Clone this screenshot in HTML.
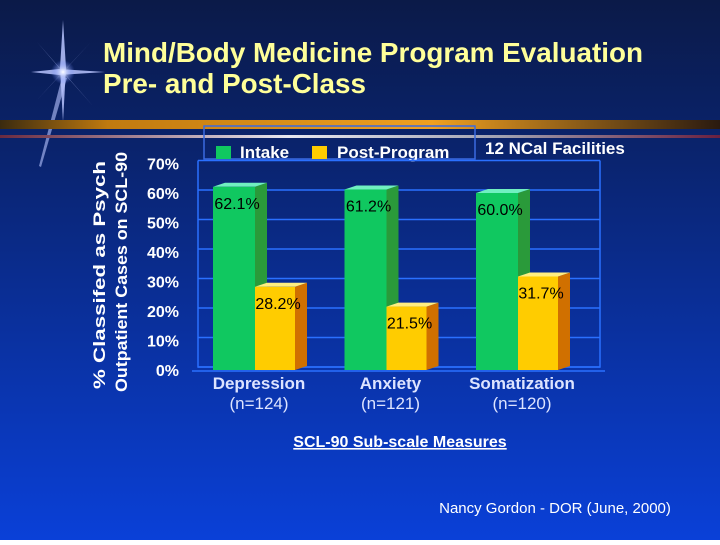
<!DOCTYPE html>
<html><head><meta charset="utf-8"><style>
html,body{margin:0;padding:0;}
body{width:720px;height:540px;overflow:hidden;font-family:"Liberation Sans",sans-serif;}
</style></head><body>
<svg id="chart" width="720" height="540" viewBox="0 0 720 540" xmlns="http://www.w3.org/2000/svg">
<defs>
<linearGradient id="bg" x1="0" y1="0" x2="0" y2="1">
<stop offset="0" stop-color="#0b1a48"/><stop offset="0.3" stop-color="#0a2470"/><stop offset="1" stop-color="#0a40d8"/>
</linearGradient>
<linearGradient id="gold" x1="0" y1="0" x2="1" y2="0">
<stop offset="0" stop-color="#3a2a10"/><stop offset="0.15" stop-color="#c07a10"/><stop offset="0.6" stop-color="#f0a020"/><stop offset="1" stop-color="#2a1a10"/>
</linearGradient>
<linearGradient id="silver" x1="0" y1="0" x2="1" y2="0">
<stop offset="0" stop-color="#6a2a40"/><stop offset="0.4" stop-color="#e8e8f0"/><stop offset="0.7" stop-color="#a0a0b0"/><stop offset="1" stop-color="#6a2040"/>
</linearGradient>
<radialGradient id="glow"><stop offset="0" stop-color="#ffffff"/><stop offset="1" stop-color="#6080ff" stop-opacity="0"/></radialGradient>
</defs>
<rect width="720" height="540" fill="url(#bg)"/>
<g transform="translate(63,72)">
<polygon points="0,-52 3,-4 0,50 -3,-4" fill="#b8c4ff" opacity="0.85"/>
<polygon points="-32,0 -4,-3 42,0 -4,3" fill="#b8c4ff" opacity="0.85"/>
<polygon points="-26,-30 -2,-2 30,34 2,2" fill="#b8c4ff" opacity="0.7"/>
<polygon points="28,-30 2,-2 -26,28 -2,2" fill="#b8c4ff" opacity="0.7"/>
<polygon points="-1,5 4,6 -22,95 -24,94" fill="#b8c4ff" opacity="0.6"/>
<circle cx="0" cy="0" r="12" fill="url(#glow)"/>
</g>
<text x="103" y="62" font-size="28" font-weight="bold" fill="#ffff99" textLength="540" lengthAdjust="spacingAndGlyphs">Mind/Body Medicine Program Evaluation</text>
<text x="103" y="93" font-size="28" font-weight="bold" fill="#ffff99" textLength="263" lengthAdjust="spacingAndGlyphs">Pre- and Post-Class</text>
<rect x="0" y="120" width="720" height="9" fill="url(#gold)"/>
<rect x="0" y="135" width="720" height="3" fill="url(#silver)"/>
<rect x="204" y="126" width="271" height="33" fill="none" stroke="#3a6ae0" stroke-width="1.5"/>
<rect x="216" y="146" width="15" height="13" fill="#10c860"/>
<text x="240" y="158" font-size="17" font-weight="bold" fill="#ffffff">Intake</text>
<rect x="312" y="146" width="15" height="13" fill="#ffcc00"/>
<text x="337" y="158" font-size="17" font-weight="bold" fill="#ffffff">Post-Program</text>
<text x="485" y="154" font-size="17" font-weight="bold" fill="#ffffff">12 NCal Facilities</text>
<text transform="translate(105,275) rotate(-90)" text-anchor="middle" font-size="17" font-weight="bold" fill="#ffffff" textLength="228" lengthAdjust="spacingAndGlyphs">%  Classifed as Psych</text>
<text transform="translate(127,272) rotate(-90)" text-anchor="middle" font-size="17" font-weight="bold" fill="#ffffff" textLength="240" lengthAdjust="spacingAndGlyphs">Outpatient Cases on SCL-90</text>
<g id="grid"></g>
<g id="ticks"></g>
<g id="bars"></g>
<g id="cats"></g>
<text x="400" y="447" text-anchor="middle" font-size="16" font-weight="bold" fill="#ffffff" text-decoration="underline">SCL-90 Sub-scale Measures</text>
<text x="555" y="513" text-anchor="middle" font-size="15" fill="#ffffff">Nancy Gordon - DOR (June, 2000)</text>
</svg>
<script>
const categories = ["Depression", "Anxiety", "Somatization"];
const subLabels = ["(n=124)", "(n=121)", "(n=120)"];
const intake = [62.1, 61.2, 60.0];
const postProgram = [28.2, 21.5, 31.7];
const tickValues = [0, 10, 20, 30, 40, 50, 60, 70];

const NS = "http://www.w3.org/2000/svg";
const base = 370, scale = 2.95;
function y(v){ return base - v*scale; }
function groupX(i){ return 213 + i*131.5; }
function mk(tag, attrs, parent){
  const e = document.createElementNS(NS, tag);
  for (const k in attrs) e.setAttribute(k, attrs[k]);
  parent.appendChild(e); return e;
}
const grid = document.getElementById('grid');
const ticks = document.getElementById('ticks');
tickValues.forEach(v => {
  const gy = y(v) - 3;
  const l = mk('line', {x1:198, x2:600, y1:gy, y2:gy, stroke:'#2a70ff', 'stroke-width':1.5}, grid);
  
  
  const t = mk('text', {x:179, y:y(v)+6, 'text-anchor':'end', 'font-size':16, 'font-weight':'bold', fill:'#ffffff'}, ticks);
  t.textContent = v + '%';
  
  
});
const frame = mk('polyline', {points:'198,'+(y(70)-3)+' 198,'+(y(0)-3)+' 600,'+(y(0)-3)+' 600,'+(y(70)-3), fill:'none', stroke:'#2a70ff','stroke-width':1.5}, grid);


mk('line',{x1:192,x2:605,y1:base+1,y2:base+1,stroke:'#2a70ff','stroke-width':1.5},grid);

const bars = document.getElementById('bars');
function bar(x, w, v, front, side, top, name){
  const g = mk('g', {}, bars);
  
  
  const ty = y(v), d = 12, o = 4;
  mk('polygon', {points:`${x+w},${ty} ${x+w+d},${ty-o} ${x+w+d},${base-o} ${x+w},${base}`, fill:side}, g);
  mk('polygon', {points:`${x},${ty} ${x+d},${ty-o} ${x+w+d},${ty-o} ${x+w},${ty}`, fill:top}, g);
  mk('rect', {x:x, y:ty, width:w, height:base-ty, fill:front}, g);
  const t = mk('text', {x:x+w/2+3, y:ty+22, 'text-anchor':'middle','font-size':16, fill:'#000000'}, g);
  t.textContent = v.toFixed(1) + '%';
}
const cats = document.getElementById('cats');
categories.forEach((c, i) => {
  const gx = groupX(i);
  bar(gx, 42, intake[i], '#10c860', '#2a9a3a', '#70f0c0', 'bar-intake-' + c.toLowerCase());
  bar(gx+42, 40, postProgram[i], '#ffcc00', '#d07000', '#ffee80', 'bar-post-' + c.toLowerCase());
  const t1 = mk('text', {x:gx+46, y:389, 'text-anchor':'middle','font-size':17,'font-weight':'bold', fill:'#dde4ff'}, cats);
  t1.textContent = c;
  
  
  const t2 = mk('text', {x:gx+46, y:409, 'text-anchor':'middle','font-size':17, fill:'#dde4ff'}, cats);
  t2.textContent = subLabels[i];
  
  
});
</script>
</body></html>
